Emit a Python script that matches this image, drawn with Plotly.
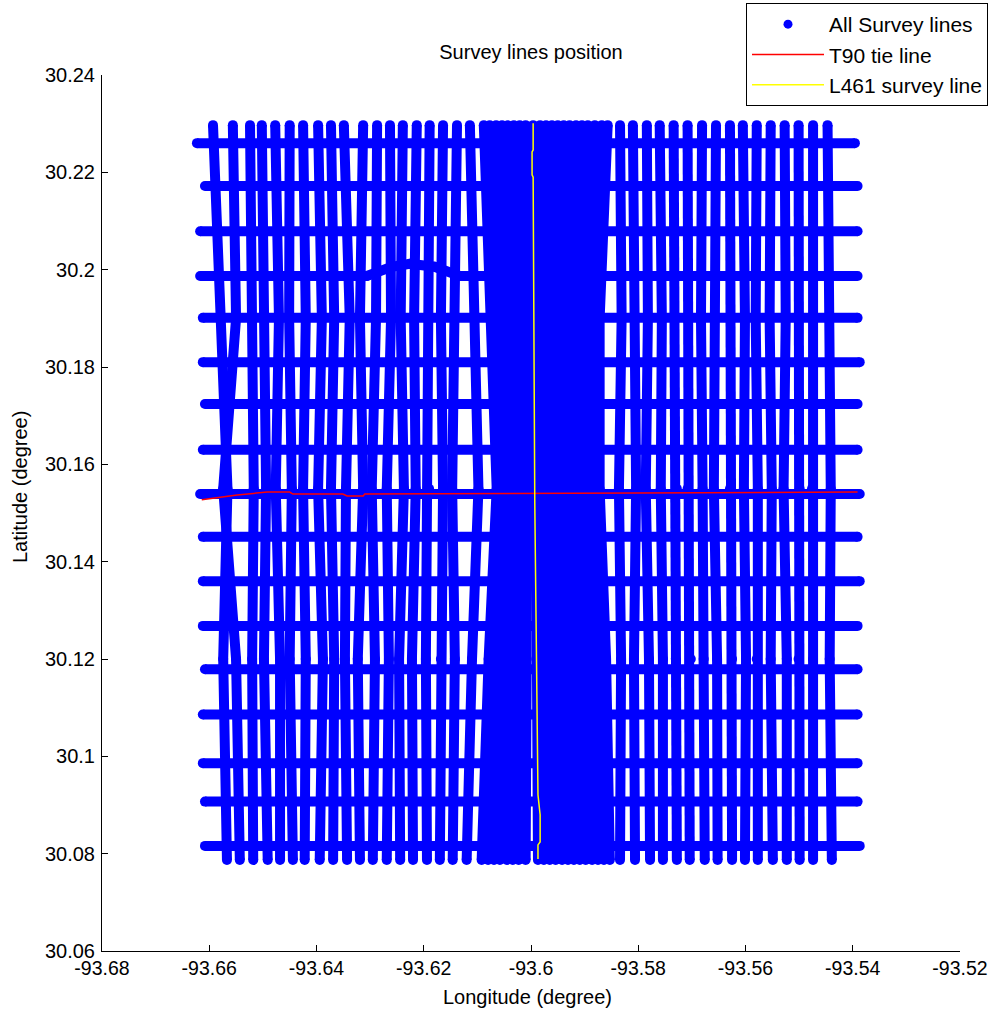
import plotly.graph_objects as go

# ---------------- data (degrees) ----------------
# latitude knots along each north-south flight line
knot_lat = [30.2297, 30.19, 30.155, 30.12, 30.0787]

# longitude of every flight line at each latitude knot
fl_lon_top = [-93.6593, -93.6556, -93.6524, -93.6502, -93.6477, -93.6450, -93.6425, -93.6397, -93.6373, -93.6349,
              -93.6313, -93.6287, -93.6263, -93.6239, -93.6213, -93.6189, -93.6164, -93.6138, -93.6114,
              -93.6088, -93.6077, -93.6065, -93.6054, -93.6043, -93.6032, -93.6021, -93.6010, -93.5996, -93.5983,
              -93.5972, -93.5961, -93.5950, -93.5939, -93.5928, -93.5916, -93.5905, -93.5894, -93.5881, -93.5868,
              -93.5857,
              -93.5834, -93.5810, -93.5784, -93.5760, -93.5734, -93.5708, -93.5681, -93.5655, -93.5629, -93.5605,
              -93.5579, -93.5553, -93.5527, -93.5501, -93.5474, -93.5447]
fl_lon_k1 = [-93.6578, -93.6550, -93.6522, -93.6496, -93.6470, -93.6451, -93.6420, -93.6390, -93.6367, -93.6338,
             -93.6319, -93.6289, -93.6261, -93.6243, -93.6218, -93.6192, -93.6168, -93.6142, -93.6106,
             -93.6077, -93.6067, -93.6060, -93.6049, -93.6039, -93.6028, -93.6019, -93.6008, -93.5996, -93.5983,
             -93.5970, -93.5959, -93.5948, -93.5937, -93.5926, -93.5914, -93.5905, -93.5896, -93.5888, -93.5879,
             -93.5872,
             -93.5831, -93.5808, -93.5782, -93.5756, -93.5732, -93.5706, -93.5683, -93.5655, -93.5627, -93.5601,
             -93.5581, -93.5555, -93.5525, -93.5501, -93.5473, -93.5443]
fl_lon_k2 = [-93.6566, -93.6574, -93.6517, -93.6494, -93.6476, -93.6446, -93.6425, -93.6397, -93.6373, -93.6345,
             -93.6313, -93.6297, -93.6269, -93.6237, -93.6215, -93.6190, -93.6164, -93.6147, -93.6098,
             -93.6064, -93.6058, -93.6052, -93.6045, -93.6036, -93.6026, -93.6017, -93.6006, -93.5993, -93.5982,
             -93.5969, -93.5957, -93.5946, -93.5935, -93.5924, -93.5913, -93.5901, -93.5892, -93.5885, -93.5877,
             -93.5872,
             -93.5836, -93.5804, -93.5786, -93.5758, -93.5728, -93.5708, -93.5680, -93.5659, -93.5629, -93.5603,
             -93.5577, -93.5551, -93.5529, -93.5499, -93.5476, -93.5441]
fl_lon_k3 = [-93.6574, -93.6550, -93.6520, -93.6498, -93.6468, -93.6450, -93.6420, -93.6388, -93.6367, -93.6347,
             -93.6323, -93.6291, -93.6265, -93.6246, -93.6222, -93.6196, -93.6168, -93.6142, -93.6110,
             -93.6079, -93.6069, -93.6058, -93.6049, -93.6039, -93.6030, -93.6019, -93.6008, -93.5989, -93.5980,
             -93.5967, -93.5955, -93.5944, -93.5933, -93.5922, -93.5911, -93.5900, -93.5888, -93.5879, -93.5870,
             -93.5860,
             -93.5832, -93.5808, -93.5780, -93.5754, -93.5730, -93.5702, -93.5678, -93.5653, -93.5625, -93.5599,
             -93.5579, -93.5553, -93.5523, -93.5501, -93.5474, -93.5443]
fl_lon_bot = [-93.6567, -93.6543, -93.6518, -93.6491, -93.6468, -93.6444, -93.6422, -93.6394, -93.6369, -93.6343,
              -93.6319, -93.6295, -93.6269, -93.6244, -93.6220, -93.6194, -93.6170, -93.6146, -93.6120,
              -93.6092, -93.6080, -93.6069, -93.6058, -93.6045, -93.6034, -93.6023, -93.6010, -93.5987, -93.5976,
              -93.5965, -93.5954, -93.5942, -93.5931, -93.5920, -93.5909, -93.5898, -93.5886, -93.5875, -93.5864,
              -93.5853,
              -93.5834, -93.5806, -93.5778, -93.5754, -93.5728, -93.5704, -93.5676, -93.5652, -93.5625, -93.5601,
              -93.5577, -93.5549, -93.5523, -93.5499, -93.5474, -93.5439]

# east-west tie lines
tie_lat = [30.2260, 30.2172, 30.2079, 30.1987, 30.1901, 30.1810, 30.1724, 30.1630, 30.1539,
           30.1451, 30.1360, 30.1268, 30.1179, 30.1086, 30.0986, 30.0907, 30.0816]
tie_lon_west = [-93.6623, -93.6608, -93.6617, -93.6617, -93.6612, -93.6612, -93.6608, -93.6612, -93.6617,
                -93.6612, -93.6612, -93.6612, -93.6608, -93.6612, -93.6612, -93.6608, -93.6608]
tie_lon_east = [-93.5396, -93.5391, -93.5391, -93.5391, -93.5391, -93.5387, -93.5391, -93.5391, -93.5387,
                -93.5391, -93.5387, -93.5391, -93.5391, -93.5391, -93.5391, -93.5391, -93.5387]
# bend in the 4th tie line
bend_tie_index = 3
bend_lon = [-93.6306, -93.6260, -93.6226, -93.6180, -93.6133]
bend_lat = [30.1987, 30.2006, 30.2012, 30.2006, 30.1987]

# T90 tie line (highlighted)
t90_lon = [-93.6614, -93.6574, -93.6548, -93.6492, -93.6450, -93.6444, -93.6351, -93.6343, -93.6313, -93.6310,
           -93.5872, -93.5391]
t90_lat = [30.1527, 30.1533, 30.1537, 30.1543, 30.1543, 30.1539, 30.1539, 30.1535, 30.1535, 30.1539,
           30.1541, 30.1543]

# L461 survey line (highlighted)
l461_lon = [-93.5996, -93.5996, -93.5998, -93.5998, -93.5996, -93.5993, -93.5987, -93.5983, -93.5983,
            -93.5987, -93.5987]
l461_lat = [30.2301, 30.2246, 30.2242, 30.2195, 30.2190, 30.1527, 30.0921, 30.0880, 30.0824, 30.0818, 30.0789]

x_ticks = [-93.68, -93.66, -93.64, -93.62, -93.6, -93.58, -93.56, -93.54, -93.52]
x_tick_text = ["-93.68", "-93.66", "-93.64", "-93.62", "-93.6", "-93.58", "-93.56", "-93.54", "-93.52"]
y_ticks = [30.06, 30.08, 30.1, 30.12, 30.14, 30.16, 30.18, 30.2, 30.22, 30.24]
y_tick_text = ["30.06", "30.08", "30.1", "30.12", "30.14", "30.16", "30.18", "30.2", "30.22", "30.24"]

# ---------------- build survey path ----------------
xs, ys = [], []
for i in range(len(fl_lon_top)):
    xs += [fl_lon_top[i], fl_lon_k1[i], fl_lon_k2[i], fl_lon_k3[i], fl_lon_bot[i], None]
    ys += knot_lat + [None]
for j in range(len(tie_lat)):
    if j == bend_tie_index:
        xs += [tie_lon_west[j]] + bend_lon + [tie_lon_east[j], None]
        ys += [tie_lat[j]] + bend_lat + [tie_lat[j], None]
    else:
        xs += [tie_lon_west[j], tie_lon_east[j], None]
        ys += [tie_lat[j], tie_lat[j], None]

BLUE = "#0000ff"
FONT = "Liberation Sans, Arial, sans-serif"
FS = 20
W, H = 990, 1010

fig = go.Figure()
fig.add_trace(go.Scatter(x=[None], y=[None], mode="markers", name="All Survey lines",
                         marker=dict(color=BLUE, size=9)))
fig.add_trace(go.Scatter(x=xs, y=ys, mode="lines+markers", showlegend=False, hoverinfo="skip",
                         line=dict(color=BLUE, width=10), marker=dict(color=BLUE, size=10),
                         connectgaps=False))
fig.add_trace(go.Scatter(x=t90_lon, y=t90_lat, mode="lines", name="T90 tie line",
                         line=dict(color="#ff0000", width=1.5)))
fig.add_trace(go.Scatter(x=l461_lon, y=l461_lat, mode="lines", name="L461 survey line",
                         line=dict(color="#ffff00", width=1.5)))

axis_common = dict(showgrid=False, zeroline=False, showline=True, linecolor="#000000", linewidth=1,
                   ticks="inside", ticklen=6, tickcolor="#000000", mirror=False)

fig.update_layout(
    width=W, height=H,
    paper_bgcolor="white", plot_bgcolor="white",
    margin=dict(l=102, r=30, t=75, b=59, autoexpand=False),
    font=dict(family=FONT, color="#000000"),
    title=dict(text="Survey lines position", x=531 / W, xanchor="center",
               y=1 - 52 / H, yanchor="middle", font=dict(family=FONT, size=FS, color="#000000")),
    xaxis=dict(range=[-93.68, -93.52], tickvals=x_ticks, ticktext=x_tick_text,
               tickfont=dict(family=FONT, size=19.5, color="#000000"), ticklabeloverflow="allow",
               **axis_common),
    yaxis=dict(range=[30.06, 30.24], tickvals=y_ticks, ticktext=y_tick_text, ticklabelstandoff=2,
               tickfont=dict(family=FONT, size=FS, color="#000000"), **axis_common),
    annotations=[
        dict(text="Longitude (degree)", xref="paper", yref="paper", x=(527 - 102) / 858, y=-46 / 876,
             xanchor="center", yanchor="middle", showarrow=False, font=dict(family=FONT, size=FS)),
        dict(text="Latitude (degree)", xref="paper", yref="paper", x=-82 / 858, y=(951 - 487) / 876,
             xanchor="center", yanchor="middle", textangle=-90, showarrow=False,
             font=dict(family=FONT, size=FS)),
    ],
    legend=dict(xref="container", yref="container", x=988 / W, xanchor="right", y=1 - 3 / H, yanchor="top",
                bgcolor="white", bordercolor="#000000", borderwidth=1,
                font=dict(family=FONT, size=21, color="#000000"), itemwidth=72,
                tracegroupgap=0),
    showlegend=True,
)

fig.write_html("out.html", config={"displayModeBar": False},
               post_script="document.body.style.margin='0';document.body.style.overflow='hidden';")
